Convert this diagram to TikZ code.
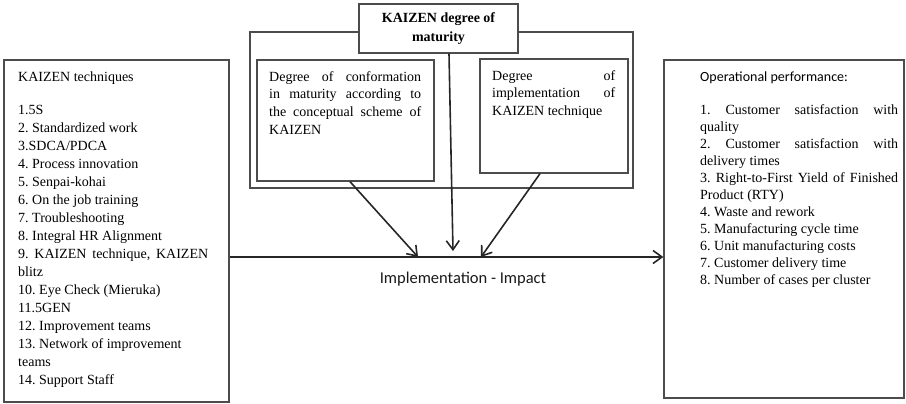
\documentclass[tikz,border=0pt]{standalone}
\usepackage{fontspec}
\setmainfont{Liberation Serif}
\newfontfamily\calibri{Carlito}
\usetikzlibrary{arrows.meta}
\setlength{\parindent}{0pt}
\hbadness=10000
\frenchspacing

\begin{document}
\begin{tikzpicture}[x=1pt,y=-1pt]

    \tikzstyle{frame}=[draw=black!70,line width=1.3pt,inner sep=0pt]
    \tikzstyle{txt}=[inner sep=0pt,anchor=north west,align=justify]
    \tikzstyle{fwd} = [draw=black!85, line width=1.6pt, -{Straight Barb[length=9pt,width=13pt]}]

    \useasboundingbox (0,0) rectangle (906,404);

    % boxes
    \node[frame,minimum width=225pt,minimum height=342pt] (tech) at (116.5,231) {};
    \node[frame,minimum width=383pt,minimum height=156pt] (maturity) at (441.5,110) {};
    \node[frame,minimum width=177pt,minimum height=121pt] (conform) at (345.5,120.5) {};
    \node[frame,minimum width=148pt,minimum height=114pt] (impl) at (554,116) {};
    \node[frame,minimum width=240pt,minimum height=338pt] (perf) at (784,229) {};
    \node[frame,fill=white,minimum width=159pt,minimum height=49pt,align=center,
          font=\bfseries\fontsize{14}{19}\selectfont] (title) at (438.5,28.5)
          {KAIZEN degree of\\maturity};

    % texts
    \node[txt,text width=190pt,font=\fontsize{14}{18}\selectfont] (techlist) at (18,72) {%
      KAIZEN techniques\par\vspace{15pt}
      1.5S\par
      2. Standardized work\par
      3.SDCA/PDCA\par
      4. Process innovation\par
      5. Senpai-kohai\par
      6. On the job training\par
      7. Troubleshooting\par
      8. Integral HR Alignment\par
      9. KAIZEN technique, KAIZEN\linebreak blitz\par
      10. Eye Check (Mieruka)\par
      11.5GEN\par
      12. Improvement teams\par
      13. Network of improvement\newline teams\par
      14. Support Staff};
    \node[txt,text width=152pt,font=\fontsize{14}{17.7}\selectfont] (conformtext) at (269,71) {%
      Degree of conformation\linebreak in maturity according to\linebreak
      the conceptual scheme of\linebreak KAIZEN};
    \node[txt,text width=123pt,font=\fontsize{14}{17.5}\selectfont] (impltext) at (492,70) {%
      Degree of\linebreak implementation of\linebreak KAIZEN technique};
    \node[txt,text width=198pt,font=\fontsize{14}{17}\selectfont] (perflist) at (700,72) {%
      {\calibri Operational performance:}\par\vspace{16pt}
      1. Customer satisfaction with\linebreak quality\par
      2. Customer satisfaction with\linebreak delivery times\par
      3. Right-to-First Yield of Finished\linebreak Product (RTY)\par
      4. Waste and rework\par
      5. Manufacturing cycle time\par
      6. Unit manufacturing costs\par
      7. Customer delivery time\par
      8. Number of cases per cluster};

    \node[text=black!90,font=\calibri\fontsize{16.5}{18}\selectfont] (impact) at (463,279)
          {Implementation - Impact};

    % arrows
    \coordinate (axis) at (450,257);
    \coordinate (hitA) at (418,257);
    \coordinate (hitB) at (453,251);
    \coordinate (hitC) at (481,257);

    \draw [fwd] (tech.east |- axis) -- (perf.west |- axis);
    \draw [fwd] ([xshift=4.5pt]conform.south) -- (hitA);
    \draw [fwd] ([xshift=10.5pt]title.south) -- (hitB);
    \draw [fwd] ([xshift=-14pt]impl.south) -- (hitC);
\end{tikzpicture}
\end{document}
